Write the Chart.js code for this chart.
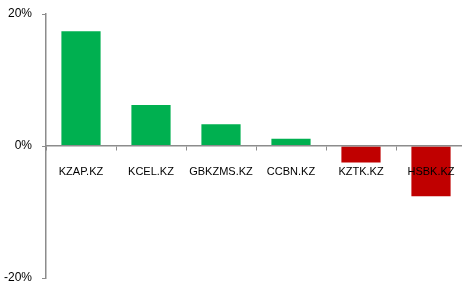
<!DOCTYPE html>
<html lang="en">
<head>
    <meta charset="UTF-8">
    <title>Returns by Ticker</title>
    <script src="https://cdn.jsdelivr.net/npm/chart.js"></script>
    <style>
        body, html {
            margin: 0;
            padding: 0;
            background: #fff;
            overflow: hidden;
        }
        /* the plot runs a few px past the right edge of the picture, like the original */
        #wrap {
            width: 466px;
            height: 285px;
        }
    </style>
</head>
<body>
    <div id="wrap"><canvas id="returnsChart"></canvas></div>

    <script>
        const tickers = ['KZAP.KZ', 'KCEL.KZ', 'GBKZMS.KZ', 'CCBN.KZ', 'KZTK.KZ', 'HSBK.KZ'];
        const returns = [17.4, 6.2, 3.3, 1.1, -2.5, -7.6];
        const yTicks = [-20, 0, 20];

        const green = '#00B050';
        const red = '#C00000';
        const axisGrey = '#8c8c8c';

        const ctx = document.getElementById('returnsChart').getContext('2d');
        new Chart(ctx, {
            type: 'bar',
            data: {
                labels: tickers,
                datasets: [{
                    data: returns,
                    backgroundColor: returns.map(v => v >= 0 ? green : red),
                    borderWidth: 0,
                    categoryPercentage: 1,
                    barPercentage: 0.56
                }]
            },
            options: {
                responsive: true,
                maintainAspectRatio: false,
                animation: false,
                layout: {
                    padding: 0
                },
                plugins: {
                    legend: { display: false },
                    tooltip: { enabled: false }
                },
                scales: {
                    x: {
                        position: { y: 0 },
                        // axis sits on the zero line, so it should not take layout space
                        afterFit: s => {
                            s.height = 0;
                            s.paddingLeft = 0;
                            s.paddingRight = 0;
                        },
                        grid: {
                            display: true,
                            drawOnChartArea: false,
                            offset: true,
                            tickLength: 4,
                            color: axisGrey
                        },
                        border: { color: axisGrey, width: 1.5, z: 1 },
                        ticks: {
                            z: 1,
                            color: '#000',
                            padding: 15,
                            maxRotation: 0,
                            autoSkip: false,
                            font: { family: 'Liberation Sans', size: 11 }
                        }
                    },
                    y: {
                        min: -20,
                        max: 20,
                        afterFit: s => {
                            s.width = 46;
                            s.paddingTop = 14;
                            s.paddingBottom = 7;
                        },
                        afterBuildTicks: s => { s.ticks = yTicks.map(v => ({ value: v })); },
                        grid: {
                            display: true,
                            drawOnChartArea: false,
                            tickLength: 4,
                            color: axisGrey
                        },
                        border: { color: axisGrey, width: 1.5 },
                        ticks: {
                            color: '#000',
                            padding: 10,
                            callback: v => v + '%',
                            font: { family: 'Liberation Sans', size: 12 }
                        }
                    }
                }
            }
        });
    </script>
</body>
</html>
